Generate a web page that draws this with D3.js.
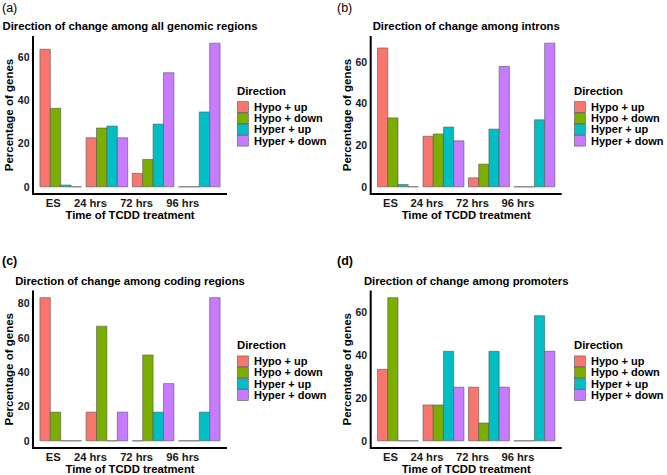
<!DOCTYPE html>
<html>
<head>
<meta charset="utf-8">
<script src="https://cdn.jsdelivr.net/npm/d3@7"></script>
<style>
  html, body { margin: 0; padding: 0; background: #fff; }
  svg { display: block; font-family: "Liberation Sans", Arial, sans-serif; }
</style>
</head>
<body>
<svg id="chart" width="667" height="475"></svg>
<script>
// ---- data ----
const categories = ["ES", "24 hrs", "72 hrs", "96 hrs"];
const directions = ["Hypo + up", "Hypo + down", "Hyper + up", "Hyper + down"];
const directionColors = ["#F8766D", "#7CAE00", "#00BFC4", "#C77CFF"];

// rows = time points, columns = directions
const allRegionsValues = [
  [63.4, 36.2, 0.8, 0],
  [22.6, 27.1, 28.0, 22.6],
  [6.2, 12.6, 28.9, 52.6],
  [0, 0, 34.5, 66.2]
];
const intronsValues = [
  [66.7, 33.1, 1.1, 0],
  [24.3, 25.4, 28.7, 22.1],
  [4.3, 10.9, 27.7, 57.8],
  [0, 0, 32.2, 69.0]
];
const codingValues = [
  [83.3, 16.7, 0, 0],
  [16.7, 66.7, 0, 16.7],
  [0, 50.0, 16.7, 33.3],
  [0, 0, 16.7, 83.3]
];
const promotersValues = [
  [33.3, 66.7, 0, 0],
  [16.7, 16.7, 41.7, 25.0],
  [25.0, 8.3, 41.7, 25.0],
  [0, 0, 58.3, 41.7]
];
const ticksTop = [0, 20, 40, 60];
const ticksCoding = [0, 20, 40, 60, 80];

const panelLabels = ["(a)", "(b)", "(c)", "(d)"];
const panelTitles = [
  "Direction of change among all genomic regions",
  "Direction of change among introns",
  "Direction of change among coding regions",
  "Direction of change among promoters"
];
const xTitle = "Time of TCDD treatment";
const yTitle = "Percentage of genes";
const legendTitle = "Direction";

// ---- layout ----
const panels = [
  { values: allRegionsValues, ticks: ticksTop, x0: 33, x1: 227, top: 36, bottom: 194, legendX: 237, labelX: 2, labelY: 12, labelBold: false },
  { values: intronsValues, ticks: ticksTop, x0: 370.7, x1: 561.7, top: 36, bottom: 194, legendX: 574, labelX: 337, labelY: 12, labelBold: false },
  { values: codingValues, ticks: ticksCoding, x0: 33, x1: 227, top: 290.5, bottom: 448, legendX: 237, labelX: 2, labelY: 265, labelBold: true },
  { values: promotersValues, ticks: ticksTop, x0: 370.7, x1: 561.7, top: 290.5, bottom: 448, legendX: 574, labelX: 337, labelY: 265, labelBold: true }
];

const svg = d3.select("#chart");
const color = d3.scaleOrdinal().domain(directions).range(directionColors);

panels.forEach((p, i) => {
  const g = svg.append("g");
  const maxV = d3.max(p.values.flat());
  const y = d3.scaleLinear().domain([-0.05 * maxV, 1.05 * maxV]).range([p.bottom, p.top]);
  const x = d3.scaleBand().domain(categories).range([p.x0, p.x1]).paddingInner(0.1).paddingOuter(0.15);
  const xs = d3.scaleBand().domain(directions).range([0, x.bandwidth()]);

  // panel label
  g.append("text").attr("x", p.labelX).attr("y", p.labelY)
    .attr("font-size", 12.5).attr("font-weight", p.labelBold ? "bold" : "normal")
    .text(panelLabels[i]);

  // title
  g.append("text").attr("x", (p.x0 + p.x1) / 2).attr("y", p.top - 6)
    .attr("text-anchor", "middle").attr("font-size", 11.3).attr("font-weight", "bold")
    .text(panelTitles[i]);

  // bars (paths so zero-height bars still show their outline)
  const groups = g.selectAll("g.grp").data(categories).join("g")
    .attr("transform", c => `translate(${x(c)},0)`);
  groups.selectAll("path").data((c, ci) => directions.map((d, di) => ({ d, v: p.values[ci][di] })))
    .join("path")
    .attr("d", r => {
      const bx = xs(r.d), bw = xs.bandwidth(), y0 = y(0), y1 = y(r.v);
      return `M${bx},${y0}V${y1}H${bx + bw}V${y0}Z`;
    })
    .attr("fill", r => color(r.d))
    .attr("stroke", "#555")
    .attr("stroke-width", 0.6);

  // y axis
  const yAxis = d3.axisLeft(y).tickValues(p.ticks).tickSize(0).tickPadding(3.5);
  const ya = g.append("g").attr("transform", `translate(${p.x0},0)`).call(yAxis);
  ya.select(".domain").remove();
  ya.selectAll("text").attr("font-size", 10.5).attr("font-weight", "bold")
    .attr("fill", "#1a1a1a").attr("font-family", "Liberation Sans, Arial, sans-serif");

  // x axis labels (right-aligned at group centre)
  const xAxis = d3.axisBottom(x).tickSize(0).tickPadding(0);
  const xa = g.append("g").attr("transform", `translate(0,${p.bottom})`).call(xAxis);
  xa.select(".domain").remove();
  xa.selectAll("text").attr("text-anchor", "end").attr("dy", null).attr("y", 13)
    .attr("x", 0)
    .attr("font-size", 11.2).attr("font-weight", "bold")
    .attr("fill", "#1a1a1a").attr("font-family", "Liberation Sans, Arial, sans-serif");

  // axis lines
  g.append("path")
    .attr("d", `M${p.x0},${p.top}V${p.bottom}H${p.x1}`)
    .attr("fill", "none").attr("stroke", "#000").attr("stroke-width", 2);

  // axis titles
  g.append("text").attr("x", (p.x0 + p.x1) / 2).attr("y", p.bottom + 24.6)
    .attr("text-anchor", "middle").attr("font-size", 11.3).attr("font-weight", "bold")
    .text(xTitle);
  const cy = (p.top + p.bottom) / 2;
  g.append("text")
    .attr("transform", `translate(${p.x0 - 20},${cy}) rotate(-90)`)
    .attr("text-anchor", "middle").attr("font-size", 11.5).attr("font-weight", "bold")
    .text(yTitle);

  // legend
  const lg = g.append("g").attr("transform", `translate(${p.legendX},${cy})`);
  lg.append("text").attr("x", 0).attr("y", -20).attr("font-size", 11.3).attr("font-weight", "bold")
    .text(legendTitle);
  const items = lg.selectAll("g.item").data(directions).join("g")
    .attr("transform", (d, k) => `translate(0,${-13.3 + k * 11.2})`);
  items.append("rect").attr("x", 0.5).attr("y", 0).attr("width", 10.8).attr("height", 10.8)
    .attr("fill", d => color(d)).attr("stroke", "#555").attr("stroke-width", 0.6);
  items.append("text").attr("x", 17).attr("y", 9.2).attr("font-size", 11).attr("font-weight", "bold")
    .text(d => d);
});
</script>
</body>
</html>
